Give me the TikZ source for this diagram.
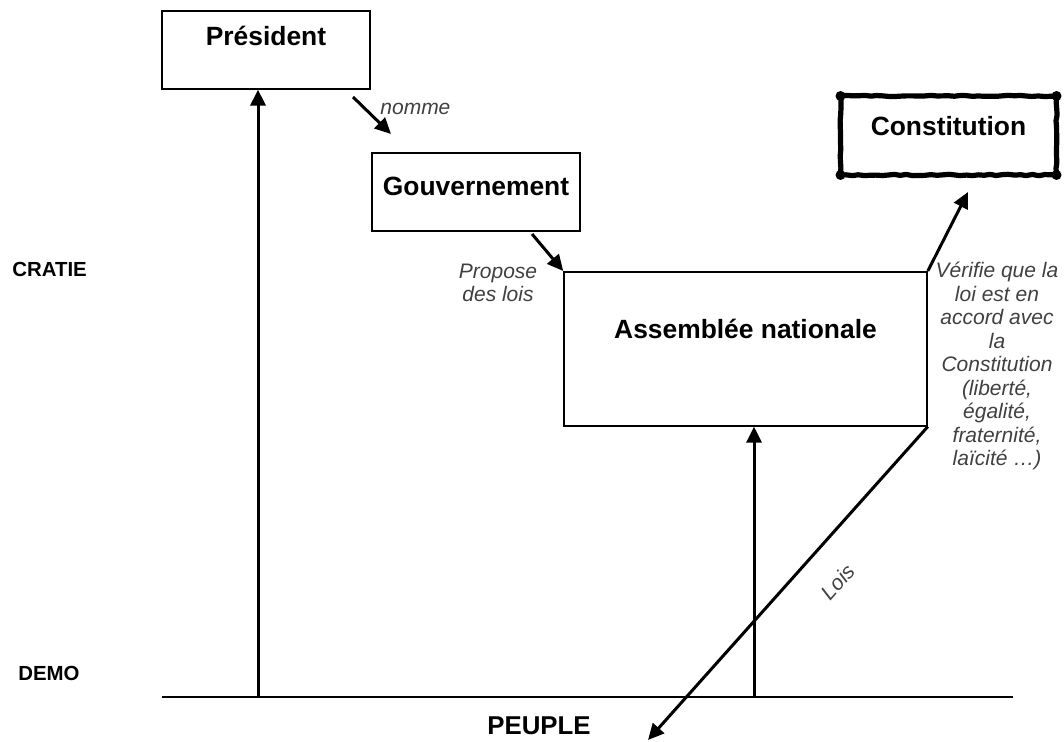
\documentclass[tikz,border=0pt]{standalone}
\usepackage{fontspec}
\setmainfont{Liberation Sans}
\usetikzlibrary{arrows.meta,decorations.pathmorphing}
\begin{document}
\begin{tikzpicture}
        [x=0.5pt, y=-0.5pt,
        box/.style={draw, line width=0.8pt, inner xsep=0pt, inner ysep=0pt, font=\bfseries\fontsize{13.2}{15}\selectfont},
        boxThick/.style={box, line width=2.6pt, outer sep=0pt, line join=round, decorate, decoration={random steps, segment length=3pt, amplitude=0.35pt}},
        blob/.style={fill, circle, inner sep=0pt, minimum size=5pt},
        note/.style={font=\itshape\fontsize{10.5}{11.75}\selectfont, text=black!75, inner sep=0pt},
        level/.style={font=\bfseries\fontsize{10.2}{12}\selectfont, anchor=base west, inner sep=0pt},
        arr/.style={line width=1.5pt, -{Triangle[length=8pt,width=7.5pt]}}]
        \useasboundingbox (0,0) rectangle (1064,742);
        % boxes
        \node[box, anchor=north, minimum width=104pt, text height=17.5pt, text depth=21.5pt] (president) at (266,10) {Président};
        \node[box, anchor=north, minimum width=104pt, text height=21.5pt, text depth=17.5pt] (gouv) at (476,152) {Gouvernement};
        \node[box, anchor=north, minimum width=181.5pt, text height=33.5pt, text depth=43.5pt] (assemblee) at (745.5,271) {Assemblée nationale};
        \node[boxThick, anchor=north, minimum width=108pt, text height=20pt, text depth=19.5pt] (constitution) at (948.5,96) {Constitution};
        \foreach \c in {north west, north east, south west, south east}
            \node[blob] (blob-\c) at (constitution.\c) {};
        % levels
        \node[level] (cratie) at (12,277) {CRATIE};
        \node[level] (demo) at (18,680) {DEMO};
        \node[font=\bfseries\fontsize{12.9}{15}\selectfont, anchor=base, inner sep=0pt] (peuple) at (539,734) {PEUPLE};
        % ground
        \coordinate (solW) at (162,697);
        \coordinate (solE) at (1013,697);
        \coordinate (d1) at (258,697);
        \coordinate (d2) at (754,697);
        \draw[line width=1.3pt] (solW) -- (solE);
        % free ends
        \coordinate (nommeA) at (353,97);
        \coordinate (nommeB) at (391,134);
        \coordinate (propA) at (532,234);
        \coordinate (verif) at (968,192);
        \coordinate (lois) at (648,740);
        
        \draw[arr] (d1) -- (d1 |- president.south);
        \draw[arr] (d2) -- (d2 |- assemblee.south);
        \draw[arr] (nommeA) -- (nommeB);
        \draw[arr] (propA) -- (assemblee.north west);
        \draw[arr] (assemblee.north east) -- (verif);
        \draw[arr] (assemblee.south east) -- (lois);
        % texts
        \node[note, anchor=base west] (nomme) at (380,115) {nomme};
        \node[note, align=center] (propose) at (498,283) {Propose\\des lois};
        \node[note, align=center] (verifie) at (997,366) {Vérifie que la\\loi est en\\accord avec\\la\\Constitution\\(liberté,\\égalité,\\fraternité,\\laïcité …)};
        \node[note, rotate=48.7] (loisLabel) at (838,582) {Lois};
    \end{tikzpicture}
\end{document}
